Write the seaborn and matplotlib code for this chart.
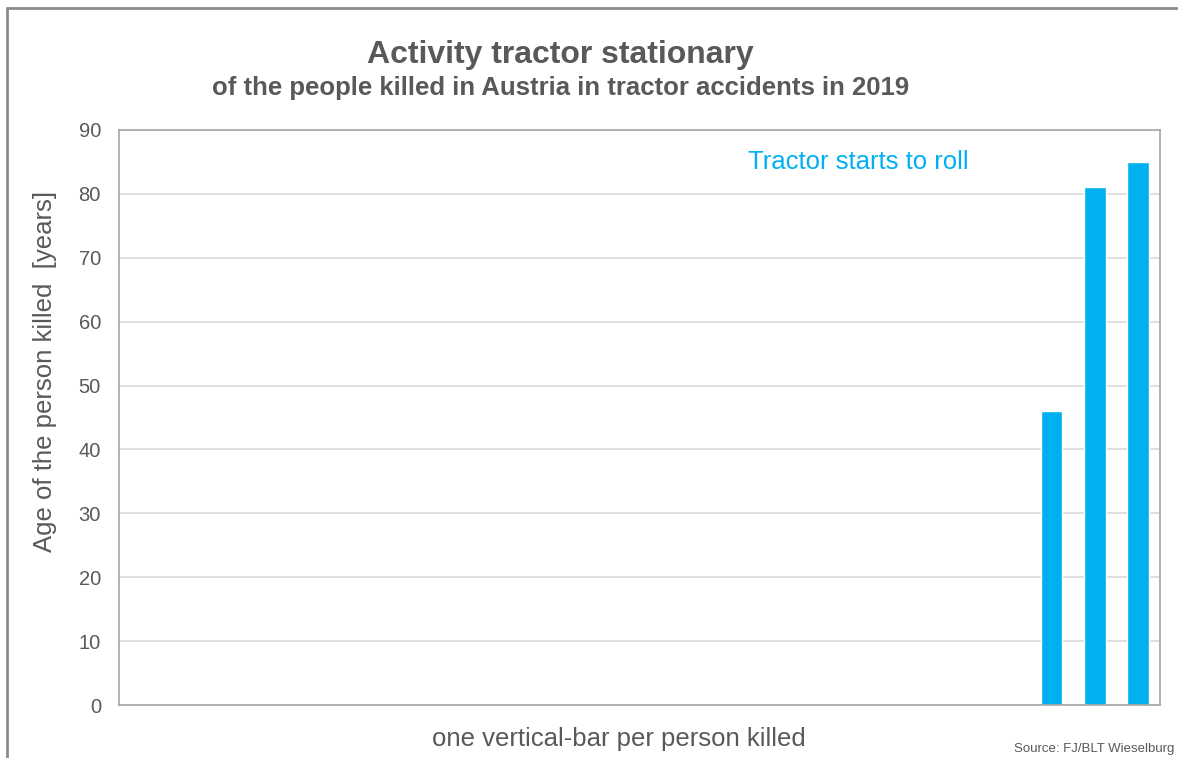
import matplotlib
matplotlib.use("Agg")
import matplotlib.pyplot as plt
from matplotlib.lines import Line2D
import pandas as pd
import seaborn as sns

# one slot per person killed; only the last three belong to this activity
slots = [f"p{i}" for i in range(1, 25)]
persons = ["p22", "p23", "p24"]
ages = [46, 81, 85]

grey_txt = "#595959"
blue = "#00B0F0"

sns.set_theme(style="white")
plt.rcParams["font.family"] = ["Liberation Sans", "DejaVu Sans"]

df = pd.DataFrame({"person": persons, "age": ages})

fig = plt.figure(figsize=(11.78, 7.58), dpi=100)
ax = fig.add_axes([0.101, 0.0699, 0.8837, 0.7586])

sns.barplot(data=df, x="person", y="age", order=slots, color=blue,
            saturation=1, width=0.5, ax=ax)

ax.set_ylim(0, 90)
ax.set_yticks(range(0, 91, 10))
ax.yaxis.grid(True, color="#D9D9D9", linewidth=1.2)
ax.set_axisbelow(True)
ax.set_xticks([])
ax.tick_params(axis="y", length=0, labelsize=14.5, labelcolor=grey_txt, pad=13)
for s in ax.spines.values():
    s.set_color("#A6A6A6")
    s.set_linewidth(1.2)

ax.set_xlabel("one vertical-bar per person killed", fontsize=18.5, color=grey_txt)
ax.xaxis.set_label_coords(0.48, -0.038)
ax.xaxis.label.set_va("top")
ax.set_ylabel("Age of the person killed  [years]", fontsize=18.5, color=grey_txt)
ax.yaxis.set_label_coords(-0.06, 0.58)

ax.text(0.71, 0.944, "Tractor starts to roll", transform=ax.transAxes,
        ha="center", va="center", fontsize=18.5, color=blue)

fig.text(0.476, 0.928, "Activity tractor stationary", ha="center", va="center",
         fontsize=23, fontweight="bold", color=grey_txt)
fig.text(0.476, 0.884, "of the people killed in Austria in tractor accidents in 2019",
         ha="center", va="center", fontsize=18.5, fontweight="bold", color=grey_txt)
fig.text(0.997, 0.004, "Source: FJ/BLT Wieselburg", ha="right", va="bottom",
         fontsize=9.5, color=grey_txt)

# frame lines of the original slide
fig.add_artist(Line2D([0.006, 1.0], [0.989, 0.989], color="#8C8C8C", linewidth=2))
fig.add_artist(Line2D([0.006, 0.006], [0.0, 0.989], color="#8C8C8C", linewidth=2))

fig.savefig("out.png", dpi=100)
